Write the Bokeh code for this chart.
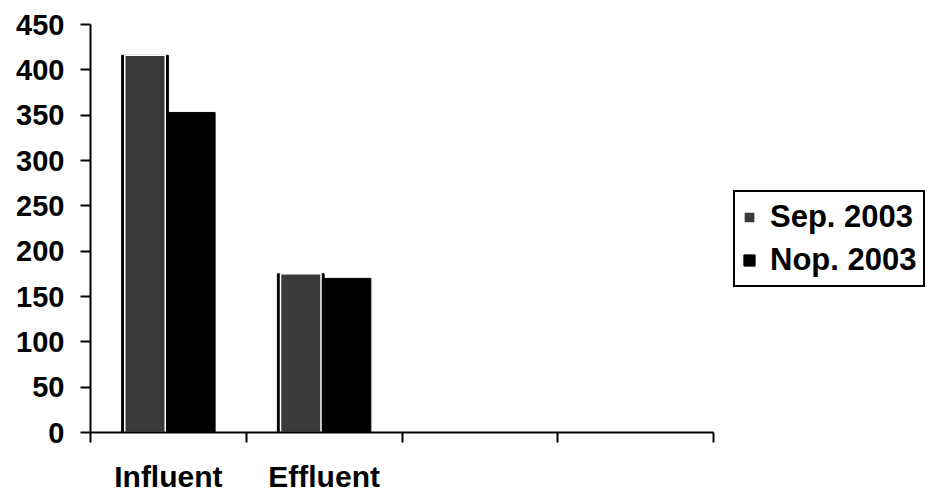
from bokeh.plotting import figure
from bokeh.models import ColumnDataSource, FixedTicker, Range1d, Legend, LegendItem
from bokeh.embed import file_html
from bokeh.resources import INLINE

categories = ["Influent", "Effluent", "", ""]
series_names = ["Sep. 2003", "Nop. 2003"]
sep_2003 = [416, 175]
nop_2003 = [353, 170]
y_ticks = [0, 50, 100, 150, 200, 250, 300, 350, 400, 450]

n = len(sep_2003)
idx = list(range(n))
src = ColumnDataSource(dict(
    x_sep=[i + 0.5 - 0.15 for i in idx],
    x_nop=[i + 0.5 + 0.15 for i in idx],
    sep=sep_2003, nop=nop_2003,
))

FONT = "Liberation Sans"

p = figure(frame_width=623, frame_height=408, output_backend="svg", toolbar_location=None,
           x_range=Range1d(0, len(categories)), y_range=Range1d(0, 450),
           min_border_left=90, min_border_right=221, min_border_top=24, min_border_bottom=67)
p.grid.visible = False
p.outline_line_color = None
p.background_fill_color = "white"
p.border_fill_color = "white"

r_sep_outer = p.vbar(x="x_sep", top="sep", width=0.3, bottom=0, source=src,
                     fill_color="black", line_color="black", line_width=1)
r_sep = p.vbar(x="x_sep", top="sep", width=0.26, bottom=0, source=src,
               fill_color="#3a3a3a", line_color="white", line_width=1.5)
r_nop = p.vbar(x="x_nop", top="nop", width=0.3, bottom=0, source=src,
               fill_color="black", line_color="black", line_width=1)

# x axis: labels at centers, ticks at boundaries
xa = p.xaxis[0]
centers = [i + 0.5 for i in range(len(categories))]
xa.ticker = FixedTicker(ticks=centers, minor_ticks=list(range(len(categories) + 1)))
xa.major_label_overrides = {c: lab for c, lab in zip(centers, categories)}
xa.major_tick_out = 0
xa.major_tick_in = 0
xa.minor_tick_out = 10
xa.minor_tick_in = 0
xa.minor_tick_line_color = "black"
xa.minor_tick_line_width = 2
xa.axis_line_width = 2
xa.major_label_standoff = 17
xa.major_label_text_font = FONT
xa.major_label_text_font_style = "bold"
xa.major_label_text_font_size = "30px"
xa.major_label_text_color = "black"

ya = p.yaxis[0]
ya.ticker = FixedTicker(ticks=y_ticks)
ya.major_tick_out = 10
ya.major_tick_in = 0
ya.minor_tick_out = 0
ya.minor_tick_in = 0
ya.major_tick_line_width = 2
ya.axis_line_width = 2
ya.major_label_standoff = 16
ya.major_label_text_font = FONT
ya.major_label_text_font_style = "bold"
ya.major_label_text_font_size = "29px"
ya.major_label_text_color = "black"

legend = Legend(items=[LegendItem(label=series_names[0], renderers=[r_sep]),
                       LegendItem(label=series_names[1], renderers=[r_nop])],
                location=(20, 145))
legend.label_text_font = FONT
legend.label_text_font_style = "bold"
legend.label_text_font_size = "31px"
legend.label_text_color = "black"
legend.border_line_color = "black"
legend.border_line_width = 2
legend.border_line_alpha = 1
legend.glyph_width = 14
legend.glyph_height = 14
legend.spacing = 7
legend.padding = 7
legend.margin = 0
legend.label_standoff = 14
legend.background_fill_alpha = 1
p.add_layout(legend, "right")

open("out.html", "w").write(file_html(p, INLINE))
